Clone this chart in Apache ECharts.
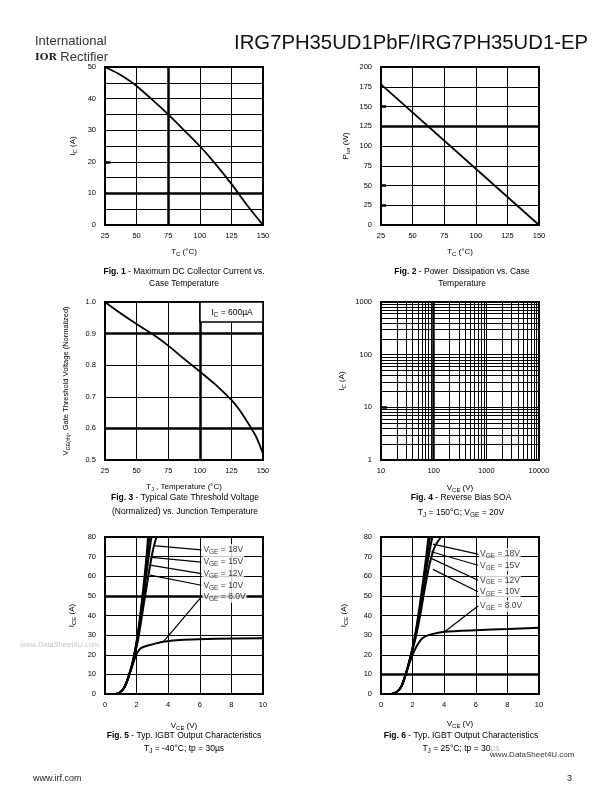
<!DOCTYPE html>
<html><head><meta charset="utf-8">
<script src="https://cdn.jsdelivr.net/npm/echarts@6/dist/echarts.min.js"></script>
<style>html,body{margin:0;padding:0;background:#fff}#c{width:612px;height:792px}</style>
</head><body><div id="c"></div>
<script>
const FONT = '"Liberation Sans", Arial, Helvetica, sans-serif';

// ---------- Fig. 1 : Max DC collector current vs case temperature
const fig1TempC = [25, 35, 45, 50, 60, 75, 90, 100, 112, 125, 137, 150];
const fig1Ic    = [50, 48, 45.5, 44, 40.5, 35, 29, 25, 19.5, 13, 6.5, 0];
// ---------- Fig. 2 : Power dissipation vs case temperature
const fig2TempC = [25, 150];
const fig2Ptot  = [178, 0];
// ---------- Fig. 3 : Normalized gate threshold voltage
const fig3TempJ = [25, 37, 50, 62, 75, 87, 100, 112, 120, 125, 132, 140, 145, 150];
const fig3Vgeth = [1.0, 0.965, 0.93, 0.9, 0.862, 0.822, 0.78, 0.74, 0.71, 0.69, 0.655, 0.605, 0.57, 0.52];
// ---------- Fig. 4 : RBSOA grid (log decades)
const fig4Mult = [2, 3, 4, 5, 6, 7, 8, 9];
const fig4XDecades = [10, 100, 1000];
const fig4YDecades = [1, 10, 100];
// ---------- Fig. 5 : Output characteristics Tj = -40C
const fig5Vce18 = [0.65, 0.9, 1.2, 1.5, 1.8, 2.1, 2.4, 2.65, 2.72];
const fig5Ice18 = [0, 0.5, 3, 9, 18, 32, 52, 72, 80];
const fig5Vce15 = [0.65, 0.9, 1.2, 1.5, 1.8, 2.1, 2.4, 2.7, 2.8];
const fig5Ice15 = [0, 0.5, 3, 9, 18, 31, 50, 71, 80];
const fig5Vce12 = [0.65, 0.9, 1.2, 1.5, 1.8, 2.1, 2.4, 2.7, 2.9, 2.95];
const fig5Ice12 = [0, 0.5, 3, 9, 17.5, 30, 47, 66, 78, 80];
const fig5Vce10 = [0.65, 0.9, 1.2, 1.5, 1.8, 2.1, 2.4, 2.7, 3.0, 3.25];
const fig5Ice10 = [0, 0.5, 3, 9, 17, 28, 43, 58, 72, 80];
const fig5Vce8  = [0.65, 0.9, 1.2, 1.5, 1.8, 2.0, 2.3, 3.0, 3.7, 5, 7, 10];
const fig5Ice8  = [0, 0.5, 3, 9, 16, 20.5, 23.5, 25.3, 26.6, 27.6, 28.2, 28.4];
const fig5LeaderFrom = [[3.05, 75.6], [2.95, 69.6], [2.85, 65.7], [2.85, 60.6], [3.69, 26.6]];
const fig5LeaderTo   = [[6.1, 73.4], [6.1, 67.2], [6.1, 61.3], [6.1, 55.4], [6.1, 49.5]];
// ---------- Fig. 6 : Output characteristics Tj = 25C
const fig6Vce18 = [0.68, 1.0, 1.3, 1.6, 1.9, 2.2, 2.5, 2.8, 3.0];
const fig6Ice18 = [0, 1, 4, 11, 20, 32, 48, 66, 80];
const fig6Vce15 = [0.68, 1.0, 1.3, 1.6, 1.9, 2.2, 2.5, 2.8, 3.1];
const fig6Ice15 = [0, 1, 4, 11, 20, 31, 46, 63, 80];
const fig6Vce12 = [0.68, 1.0, 1.3, 1.6, 1.9, 2.2, 2.5, 2.8, 3.1, 3.25];
const fig6Ice12 = [0, 1, 4, 11, 20, 30, 44, 60, 74, 80];
const fig6Vce10 = [0.68, 1.0, 1.3, 1.6, 1.9, 2.2, 2.5, 2.8, 3.1, 3.4, 3.8];
const fig6Ice10 = [0, 1, 4, 11, 19.5, 29, 41, 55, 67, 75, 80];
const fig6Vce8  = [0.68, 1.0, 1.3, 1.6, 2.0, 2.3, 2.6, 3.0, 3.5, 4, 6, 8, 10];
const fig6Ice8  = [0, 1, 4, 11, 20, 25, 28.3, 30, 31, 31.7, 32.5, 33.1, 33.7];
const fig6LeaderFrom = [[3.29, 76.4], [3.18, 72.5], [3.18, 69.1], [3.29, 63.5], [4.03, 31.7]];
const fig6LeaderTo   = [[6.14, 71.3], [6.14, 65.6], [6.14, 58], [6.14, 52.1], [6.14, 44.8]];
const vgeLabels = ['18V', '15V', '12V', '10V', '8.0V'];

const zip = (a, b) => a.map((v, i) => [v, b[i]]);

const RICH = {
  n: { fontSize: 8, fontFamily: FONT, color: '#000' },
  s: { fontSize: 6, fontFamily: FONT, color: '#000', padding: [5, 0, 0, 0] }
};
const LRICH = {
  n: { fontSize: 8.5, fontFamily: FONT, color: '#000' },
  s: { fontSize: 6.5, fontFamily: FONT, color: '#000', padding: [5, 0, 0, 0] }
};
const LBL = { fontSize: 7.5, fontFamily: FONT, color: '#000' };

function axis(o) {
  return Object.assign({
    type: 'value',
    axisLine: { show: false },
    axisTick: { show: false },
    splitLine: { show: true, lineStyle: { color: '#000', width: 1 } },
    nameLocation: 'middle',
    nameTextStyle: { rich: RICH, fontSize: 8, fontFamily: FONT, color: '#000' }
  }, o);
}

function gridLines(list, width) {
  return {
    silent: true, symbol: 'none', animation: false,
    label: { show: false },
    lineStyle: { color: '#000', width: width || 2.5, type: 'solid' },
    data: list
  };
}
function stub(y, x0, x1) { return [{ coord: [x0, y] }, { coord: [x1, y] }]; }

function curve(xi, data, w) {
  return {
    type: 'line', xAxisIndex: xi, yAxisIndex: xi, data: data,
    showSymbol: false, symbol: 'none', smooth: 0.3,
    lineStyle: { color: '#000', width: w || 1.8 },
    animation: false, z: 5
  };
}
function leaderSeries(xi, from, to) {
  return {
    type: 'scatter', xAxisIndex: xi, yAxisIndex: xi, z: 7, silent: true,
    symbolSize: 0,
    data: to.map((t, i) => ({ value: t, name: vgeLabels[i] })),
    label: {
      show: true, position: 'right', distance: 1,
      backgroundColor: '#fff', padding: [0, 1, 0, 1],
      formatter: p => '{n|V}{s|GE}{n| = ' + p.name + '}',
      rich: LRICH
    },
    markLine: {
      silent: true, symbol: 'none', animation: false,
      lineStyle: { color: '#000', width: 1.2, type: 'solid' },
      label: { show: false },
      data: from.map((f, i) => [{ coord: f }, { coord: to[i] }])
    }
  };
}

const fig4XMinor = [];
fig4XDecades.forEach(d => fig4Mult.forEach(m => fig4XMinor.push({ xAxis: d * m })));
const fig4YMinor = [];
fig4YDecades.forEach(d => fig4Mult.forEach(m => fig4YMinor.push({ yAxis: d * m })));

const grids = [
  { left: 105, top: 67, width: 158, height: 158 },
  { left: 381, top: 67, width: 158, height: 158 },
  { left: 105, top: 302, width: 158, height: 158 },
  { left: 381, top: 302, width: 158, height: 158 },
  { left: 105, top: 537, width: 158, height: 157 },
  { left: 381, top: 537, width: 158, height: 157 }
].map(g => Object.assign({ show: true, borderColor: '#000', borderWidth: 2, backgroundColor: 'rgba(0,0,0,0)' }, g));

const XL = Object.assign({ margin: 7 }, LBL);
const YL = Object.assign({ margin: 9 }, LBL);
const xAxes = [
  axis({ gridIndex: 0, min: 25, max: 150, interval: 25, axisLabel: XL, name: '{n|T}{s|C}{n| (°C)}', nameGap: 21 }),
  axis({ gridIndex: 1, min: 25, max: 150, interval: 25, axisLabel: XL, name: '{n|T}{s|C}{n| (°C)}', nameGap: 21 }),
  axis({ gridIndex: 2, min: 25, max: 150, interval: 25, axisLabel: XL, name: '{n|T}{s|J}{n| , Temperature (°C)}', nameGap: 21 }),
  axis({ gridIndex: 3, type: 'log', logBase: 10, min: 10, max: 10000,
    axisLabel: Object.assign({ formatter: v => String(v) }, XL), name: '{n|V}{s|CE}{n| (V)}', nameGap: 22 }),
  axis({ gridIndex: 4, min: 0, max: 10, interval: 2, axisLabel: XL, name: '{n|V}{s|CE}{n| (V)}', nameGap: 26 }),
  axis({ gridIndex: 5, min: 0, max: 10, interval: 2, axisLabel: XL, name: '{n|V}{s|CE}{n| (V)}', nameGap: 24 })
];
const yAxes = [
  axis({ gridIndex: 0, min: 0, max: 50, interval: 10, axisLabel: YL,
    minorTick: { show: false, splitNumber: 2 }, minorSplitLine: { show: true, lineStyle: { color: '#000', width: 1 } },
    name: '{n|I}{s|C}{n| (A)}', nameGap: 27 }),
  axis({ gridIndex: 1, min: 0, max: 200, interval: 25, axisLabel: YL, name: '{n|P}{s|tot}{n| (W)}', nameGap: 30 }),
  axis({ gridIndex: 2, min: 0.5, max: 1.0, interval: 0.1, axisLabel: Object.assign({ formatter: v => v.toFixed(1) }, YL),
    name: '{n|V}{s|GE(th)}{n|, Gate Threshold Voltage (Normalized)}', nameGap: 34,
    nameTextStyle: { rich: { n: { fontSize: 7.5, fontFamily: FONT, color: '#000' }, s: { fontSize: 5.5, fontFamily: FONT, color: '#000', padding: [5, 0, 0, 0] } } } }),
  axis({ gridIndex: 3, type: 'log', logBase: 10, min: 1, max: 1000,
    axisLabel: Object.assign({ formatter: v => String(v) }, YL), name: '{n|I}{s|C}{n| (A)}', nameGap: 34 }),
  axis({ gridIndex: 4, min: 0, max: 80, interval: 10, axisLabel: YL, name: '{n|I}{s|CE}{n| (A)}', nameGap: 28 }),
  axis({ gridIndex: 5, min: 0, max: 80, interval: 10, axisLabel: YL, name: '{n|I}{s|CE}{n| (A)}', nameGap: 32 })
];

const s1 = curve(0, zip(fig1TempC, fig1Ic));
s1.markLine = gridLines([{ xAxis: 75 }, { yAxis: 10 }, stub(20, 25, 29.5)]);
const s2 = curve(1, zip(fig2TempC, fig2Ptot));
s2.smooth = false;
s2.markLine = gridLines([{ yAxis: 125 }, stub(150, 25, 29), stub(50, 25, 29), stub(25, 25, 29)]);
const s3 = curve(2, zip(fig3TempJ, fig3Vgeth));
s3.markLine = gridLines([{ xAxis: 100 }, { yAxis: 0.9 }, { yAxis: 0.6 }]);
const s4a = { type: 'line', xAxisIndex: 3, yAxisIndex: 3, data: [], showSymbol: false,
  markLine: gridLines(fig4XMinor.concat(fig4YMinor), 1) };
const s4b = { type: 'line', xAxisIndex: 3, yAxisIndex: 3, data: [], showSymbol: false,
  markLine: gridLines([{ xAxis: 100 }, stub(10, 10, 13)]) };

const s5 = [
  curve(4, zip(fig5Vce18, fig5Ice18), 2),
  curve(4, zip(fig5Vce15, fig5Ice15), 2),
  curve(4, zip(fig5Vce12, fig5Ice12), 2),
  curve(4, zip(fig5Vce10, fig5Ice10), 2),
  curve(4, zip(fig5Vce8, fig5Ice8), 2)
];
s5[4].markLine = gridLines([{ yAxis: 50 }]);
s5.push(leaderSeries(4, fig5LeaderFrom, fig5LeaderTo));
const s6 = [
  curve(5, zip(fig6Vce18, fig6Ice18), 2),
  curve(5, zip(fig6Vce15, fig6Ice15), 2),
  curve(5, zip(fig6Vce12, fig6Ice12), 2),
  curve(5, zip(fig6Vce10, fig6Ice10), 2),
  curve(5, zip(fig6Vce8, fig6Ice8), 2)
];
s6[4].markLine = gridLines([{ yAxis: 10 }]);
s6.push(leaderSeries(5, fig6LeaderFrom, fig6LeaderTo));

function txt(x, y, text, size, extra) {
  const st = Object.assign({
    text: text, fontSize: size, fontFamily: FONT, fill: '#000',
    align: 'center', verticalAlign: 'middle'
  }, extra || {});
  return { type: 'text', x: x, y: y, z: 100, style: st };
}
const CAP = {
  b: { fontSize: 8.5, fontFamily: FONT, fontWeight: 'bold', fill: '#000' },
  n: { fontSize: 8.5, fontFamily: FONT, fill: '#000' },
  s: { fontSize: 6.5, fontFamily: FONT, fill: '#000', padding: [5, 0, 0, 0] }
};

const graphics = [
  txt(35, 41, 'International', 13, { align: 'left', fill: '#333' }),
  txt(35, 57, '{b|IOR} {n|Rectifier}', 13, { align: 'left', rich: {
    b: { fontSize: 10, fontFamily: '"DejaVu Serif", serif', fontWeight: 'bold', fill: '#222' },
    n: { fontSize: 13, fontFamily: FONT, fill: '#333' } } }),
  txt(588, 43, 'IRG7PH35UD1PbF/IRG7PH35UD1-EP', 20.3, { align: 'right', fill: '#111' }),
  txt(184, 272, '{b|Fig. 1} {n|- Maximum DC Collector Current vs.}', 8.5, { rich: CAP }),
  txt(184, 284, 'Case Temperature', 8.5),
  txt(462, 272, '{b|Fig. 2} {n|- Power  Dissipation vs. Case}', 8.5, { rich: CAP }),
  txt(462, 284, 'Temperature', 8.5),
  txt(185, 498, '{b|Fig. 3} {n|- Typical Gate Threshold Voltage}', 8.5, { rich: CAP }),
  txt(185, 512, '(Normalized) vs. Junction Temperature', 8.5),
  txt(461, 498, '{b|Fig. 4} {n|- Reverse Bias SOA}', 8.5, { rich: CAP }),
  txt(461, 513, '{n|T}{s|J}{n| = 150°C; V}{s|GE}{n| = 20V}', 8.5, { rich: CAP }),
  txt(184, 736, '{b|Fig. 5} {n|- Typ. IGBT Output Characteristics}', 8.5, { rich: CAP }),
  txt(184, 749, '{n|T}{s|J}{n| = -40°C; tp = 30µs}', 8.5, { rich: CAP }),
  txt(461, 736, '{b|Fig. 6} {n|- Typ. IGBT Output Characteristics}', 8.5, { rich: CAP }),
  txt(461, 749, '{n|T}{s|J}{n| = 25°C; tp = 30}{g|µs}', 8.5, { rich: Object.assign({ g: { fontSize: 8.5, fontFamily: FONT, fill: '#bbb' } }, CAP) }),
  txt(33, 779, 'www.irf.com', 9, { align: 'left', fill: '#222' }),
  txt(572, 779, '3', 9, { align: 'right', fill: '#222' }),
  txt(20, 645, 'www.DataSheet4U.com', 7.5, { align: 'left', fill: '#c8c8c8' }),
  txt(490, 755, 'www.DataSheet4U.com', 8, { align: 'left', fill: '#333' }),
  // Fig. 3 condition box
  { type: 'rect', z: 90, shape: { x: 200, y: 302, width: 63, height: 20 },
    style: { fill: '#fff', stroke: '#000', lineWidth: 1.5 } },
  txt(232, 313, '{n|I}{s|C}{n| = 600µA}', 8.5, { rich: CAP })
];

const chart = echarts.init(document.getElementById('c'), null, { renderer: 'canvas' });
chart.setOption({
  animation: false,
  backgroundColor: '#fff',
  grid: grids,
  xAxis: xAxes,
  yAxis: yAxes,
  series: [s1, s2, s3, s4a, s4b].concat(s5, s6),
  graphic: graphics
});
</script>
</body></html>
